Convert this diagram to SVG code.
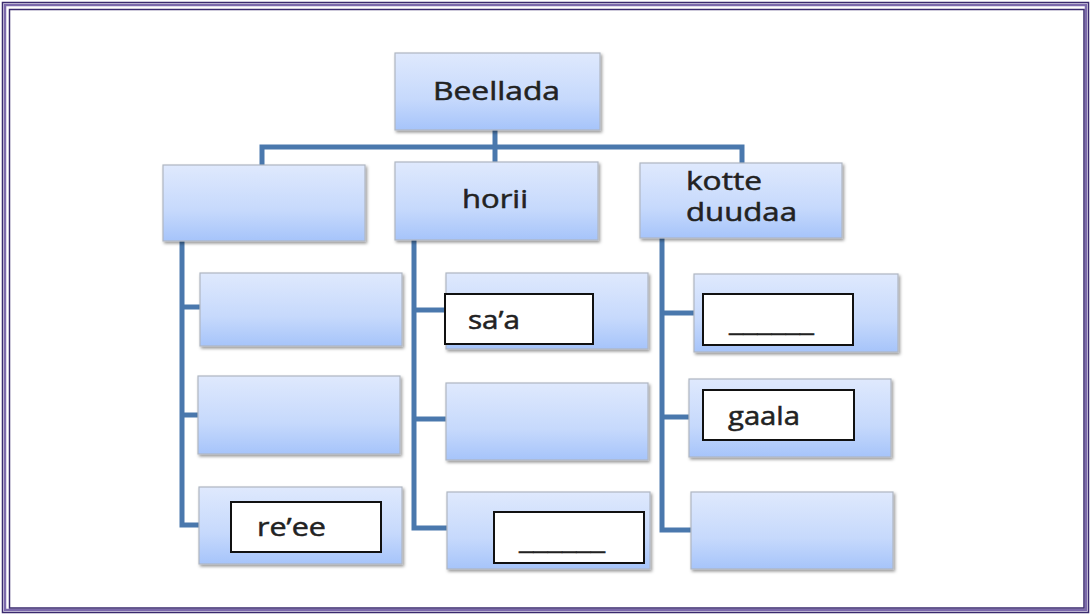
<svg xmlns="http://www.w3.org/2000/svg" width="1091" height="615" viewBox="0 0 1091 615">
<defs>
<linearGradient id="g" x1="0" y1="0" x2="0" y2="1">
<stop offset="0" stop-color="#dfe9fd"/>
<stop offset="0.6" stop-color="#c6d9fc"/>
<stop offset="1" stop-color="#a6c4fa"/>
</linearGradient>
<filter id="sh" x="-5%" y="-5%" width="112%" height="120%">
<feDropShadow dx="1.5" dy="2" stdDeviation="1.5" flood-color="#000" flood-opacity="0.4"/>
</filter>
</defs>
<style>
.n{fill:url(#g);stroke:#b0b6c2;stroke-width:1.2;filter:url(#sh)}
.w{fill:#fff;stroke:#111;stroke-width:2}
.c{fill:none;stroke:#4a78ad;stroke-width:5;stroke-linejoin:miter}
.t{font-family:"Open Sans","Liberation Sans",sans-serif;font-size:25px;fill:#222;stroke:#222;stroke-width:0.5}
</style>
<rect width="1091" height="615" fill="#fff"/>
<g id="frame" fill="none">
<rect x="2.5" y="2.5" width="1086" height="610" stroke="#3a2a6e" stroke-width="1.5"/>
<rect x="5" y="5" width="1081" height="605" stroke="#7c6aac" stroke-width="2.5"/>
<rect x="9.5" y="9.5" width="1074.5" height="598.5" stroke="#3a2a6e" stroke-width="1.5"/>
</g>
<g id="connectors">
<path class="c" d="M495 130 V163"/>
<path class="c" d="M262 165 V147 H742 V163"/>
<path class="c" d="M182 241 V525 H200"/>
<path class="c" d="M182 307 H200"/>
<path class="c" d="M182 415 H200"/>
<path class="c" d="M414 240 V528 H447"/>
<path class="c" d="M414 310 H446"/>
<path class="c" d="M414 419 H446"/>
<path class="c" d="M662 238 V530 H691"/>
<path class="c" d="M662 313 H694"/>
<path class="c" d="M662 417 H689"/>
</g>
<g id="root">
<rect class="n" x="395" y="53" width="205" height="77"/>
<text class="t" x="433" y="100" textLength="127" lengthAdjust="spacingAndGlyphs">Beellada</text>
</g>
<g id="left">
<rect class="n" x="163" y="165" width="202" height="76"/>
</g>
<g id="horii">
<rect class="n" x="395" y="162" width="203" height="78"/>
<text class="t" x="462" y="208" textLength="66" lengthAdjust="spacingAndGlyphs">horii</text>
</g>
<g id="kotte">
<rect class="n" x="640" y="163" width="202" height="75"/>
<text class="t" x="686" y="190" textLength="76" lengthAdjust="spacingAndGlyphs">kotte</text>
<text class="t" x="686" y="221" textLength="111" lengthAdjust="spacingAndGlyphs">duudaa</text>
</g>
<g id="l1"><rect class="n" x="200" y="273" width="202" height="73"/></g>
<g id="l2"><rect class="n" x="198" y="376" width="202" height="78"/></g>
<g id="l3">
<rect class="n" x="199" y="487" width="203" height="77"/>
<rect class="w" x="231" y="502" width="150" height="50"/>
<text class="t" x="257" y="536" textLength="69" lengthAdjust="spacingAndGlyphs">re’ee</text>
</g>
<g id="m1">
<rect class="n" x="446" y="273" width="202" height="76"/>
<rect class="w" x="445" y="294" width="148" height="50"/>
<text class="t" x="468" y="329" textLength="52" lengthAdjust="spacingAndGlyphs">sa’a</text>
</g>
<g id="m2"><rect class="n" x="446" y="383" width="202" height="77"/></g>
<g id="m3">
<rect class="n" x="447" y="492" width="203" height="77"/>
<rect class="w" x="494" y="512" width="150" height="51"/>
<text class="t" x="519" y="549" textLength="86" lengthAdjust="spacingAndGlyphs">______</text>
</g>
<g id="r1">
<rect class="n" x="694" y="274" width="204" height="78"/>
<rect class="w" x="703" y="294" width="150" height="51"/>
<text class="t" x="729" y="331" textLength="85" lengthAdjust="spacingAndGlyphs">______</text>
</g>
<g id="r2">
<rect class="n" x="689" y="379" width="202" height="78"/>
<rect class="w" x="703" y="390" width="151" height="50"/>
<text class="t" x="728" y="425" textLength="72" lengthAdjust="spacingAndGlyphs">gaala</text>
</g>
<g id="r3"><rect class="n" x="691" y="492" width="202" height="77"/></g>
</svg>
